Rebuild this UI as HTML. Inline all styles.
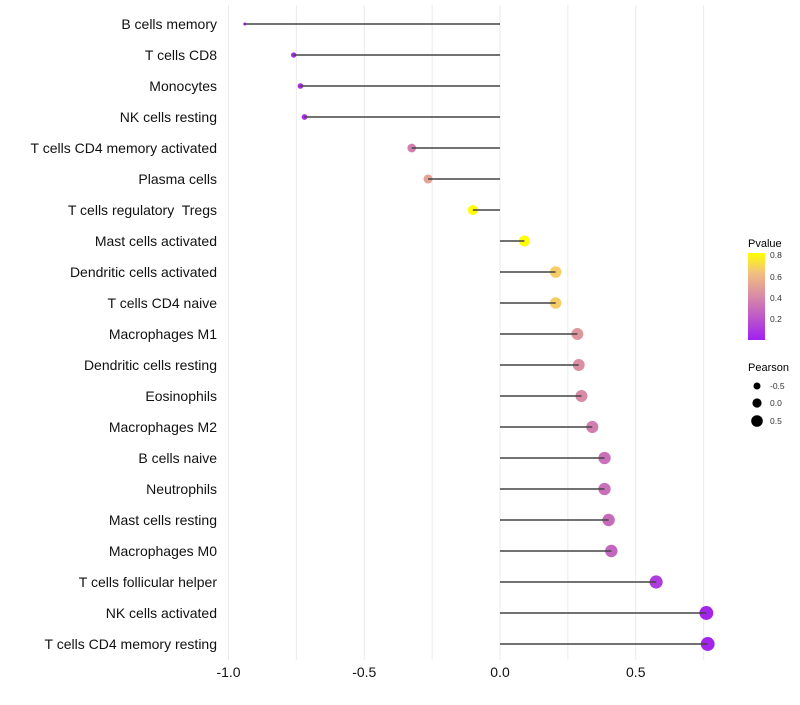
<!DOCTYPE html>
<html><head><meta charset="utf-8"><style>
body{margin:0;background:#fff;font-family:"Liberation Sans",sans-serif;}
text{white-space:pre;}
</style></head><body>
<svg id="c" width="800" height="700" xmlns="http://www.w3.org/2000/svg">
<defs><linearGradient id="pg" x1="0" y1="1" x2="0" y2="0">
<stop offset="0" stop-color="#a020f0"/><stop offset="0.5" stop-color="#d88aa6"/><stop offset="0.78" stop-color="#f3c27c"/><stop offset="1" stop-color="#ffff00"/></linearGradient></defs>
<g id="grid"></g><g id="marks"></g><g id="labels"></g>
<g font-size="11">
<text x="748" y="247" fill="#000">Pvalue</text>
<rect x="748" y="253" width="17" height="87" fill="url(#pg)"/>
<g font-size="8.5" fill="#333"><text x="770" y="258">0.8</text><text x="770" y="280">0.6</text><text x="770" y="301">0.4</text><text x="770" y="322">0.2</text></g>
<text x="748" y="371" fill="#000">Pearson</text>
<circle cx="757" cy="386" r="3.5" fill="#000"/><circle cx="757" cy="403" r="4.6" fill="#000"/><circle cx="757" cy="421" r="5.8" fill="#000"/>
<g font-size="8.5" fill="#333"><text x="770" y="389">-0.5</text><text x="770" y="406">0.0</text><text x="770" y="424">0.5</text></g>
</g>
</svg>
<script>
const categories=["B cells memory","T cells CD8","Monocytes","NK cells resting","T cells CD4 memory activated","Plasma cells","T cells regulatory  Tregs","Mast cells activated","Dendritic cells activated","T cells CD4 naive","Macrophages M1","Dendritic cells resting","Eosinophils","Macrophages M2","B cells naive","Neutrophils","Mast cells resting","Macrophages M0","T cells follicular helper","NK cells activated","T cells CD4 memory resting"];
const pearson=[-0.94,-0.76,-0.735,-0.72,-0.325,-0.265,-0.10,0.09,0.205,0.205,0.285,0.29,0.30,0.34,0.385,0.385,0.40,0.41,0.575,0.76,0.765];
const pvalue=[0.01,0.03,0.04,0.05,0.35,0.5,0.8,0.82,0.65,0.65,0.45,0.42,0.4,0.35,0.3,0.3,0.28,0.26,0.1,0.02,0.02];
const xTicks=[-1,-0.5,0,0.5];
const xTickLabels=["-1.0","-0.5","0.0","0.5"];
const NS="http://www.w3.org/2000/svg";
const X=v=>500+v*271.5, Y=i=>24+i*31;
function col(p){const st=[[0,[160,32,240]],[0.4,[216,138,166]],[0.62,[243,194,124]],[0.8,[255,255,0]]];p=Math.max(0,Math.min(0.8,p));
for(let k=1;k<st.length;k++){if(p<=st[k][0]){const a=st[k-1],b=st[k],t=(p-a[0])/(b[0]-a[0]);return"rgb("+a[1].map((c,j)=>Math.round(c+(b[1][j]-c)*t)).join(",")+")";}}return"rgb(255,255,0)";}
function mk(t,a,parent){const e=document.createElementNS(NS,t);for(const k in a)e.setAttribute(k,a[k]);parent.appendChild(e);return e;}
const g=document.getElementById('grid'),m=document.getElementById('marks'),l=document.getElementById('labels');
[-1,-0.75,-0.5,-0.25,0,0.25,0.5,0.75].forEach(v=>{const ln=mk('line',{x1:X(v),x2:X(v),y1:5,y2:660,stroke:'#ebebeb','stroke-width':1},g);

});
xTicks.forEach((v,i)=>{const t=mk('text',{x:X(v),y:677,'text-anchor':'middle','font-size':14,fill:'#111'},l);t.textContent=xTickLabels[i];

});
categories.forEach((c,i)=>{const t=mk('text',{x:217,y:Y(i)+5,'text-anchor':'end','font-size':14,fill:'#111'},l);t.textContent=c;


const d=mk('circle',{cx:X(pearson[i]),cy:Y(i),r:Math.sqrt(2.25+27*(pearson[i]+0.94)),fill:col(pvalue[i])},m);


const s=mk('line',{x1:X(0),x2:X(pearson[i]),y1:Y(i),y2:Y(i),stroke:'#444','stroke-width':1.4},m);

});
</script>
</body></html>
